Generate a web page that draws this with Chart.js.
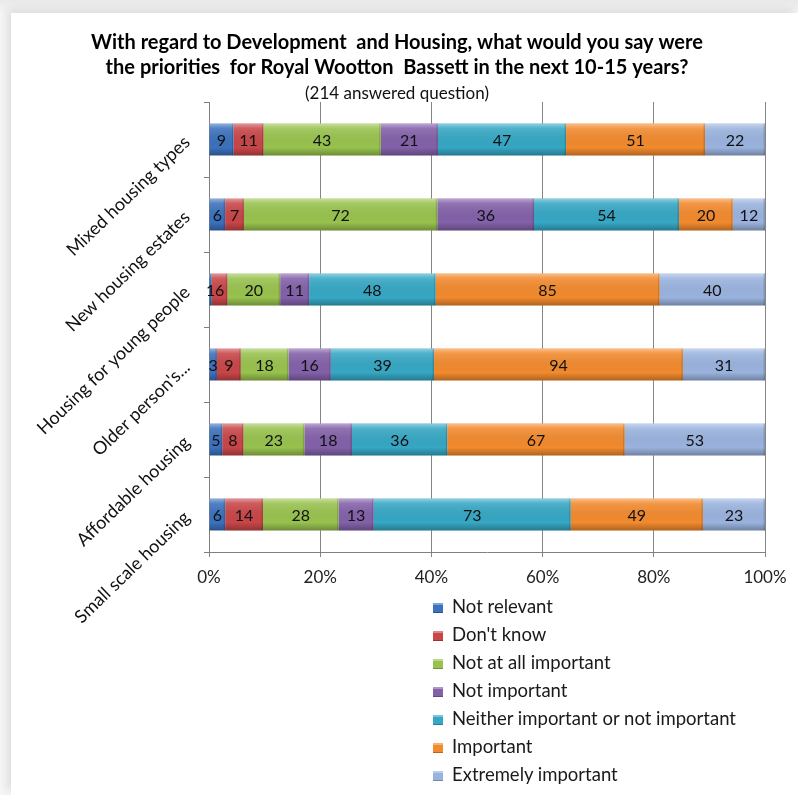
<!DOCTYPE html>
<html>
<head>
<meta charset="utf-8">
<script src="https://cdn.jsdelivr.net/npm/chart.js@4.4.1/dist/chart.umd.min.js"></script>
<style>
  html, body { margin: 0; padding: 0; }
  body { width: 798px; height: 795px; position: relative; overflow: hidden;
         background: linear-gradient(to bottom, #e9e9e9, #f6f6f6 13px, #f6f6f6); font-family: Lato, "Open Sans", sans-serif; }
  #sheet { position: absolute; left: 11px; top: 13px; right: 0; bottom: 0; background: #fff;
           box-shadow: -4px -4px 9px rgba(0,0,0,0.10); }
  #chart { position: absolute; left: 0; top: 0; }
  #legend { position: absolute; left: 433px; top: 592px; margin: 0; padding: 0; list-style: none; }
  #legend li { height: 28px; line-height: 28px; font-size: 18.5px; color: #1a1a1a; white-space: nowrap; }
  #legend span.box { display: inline-block; width: 10px; height: 10px; margin-right: 9px; vertical-align: 0px;
                     box-shadow: inset 0 2px 0 rgba(255,255,255,0.35), inset 0 -1px 0 rgba(0,0,0,0.25); }
</style>
</head>
<body>
<div id="sheet"></div>
<canvas id="chart" width="798" height="795"></canvas>
<ul id="legend"></ul>
<script>
// categories, top to bottom
const categories = ['Mixed housing types', 'New housing estates', 'Housing for young people',
                    "Older person's...", 'Affordable housing', 'Small scale housing'];

// counts per answer (same order as categories)
const notRelevant   = [9, 6, 1, 3, 5, 6];
const dontKnow      = [11, 7, 6, 9, 8, 14];
const notAtAll      = [43, 72, 20, 18, 23, 28];
const notImportant  = [21, 36, 11, 16, 18, 13];
const neither       = [47, 54, 48, 39, 36, 73];
const important     = [51, 20, 85, 94, 67, 49];
const extremely     = [22, 12, 40, 31, 53, 23];

const seriesNames = ['Not relevant', "Don't know", 'Not at all important', 'Not important',
                     'Neither important or not important', 'Important', 'Extremely important'];
const seriesCounts = [notRelevant, dontKnow, notAtAll, notImportant, neither, important, extremely];
const seriesColors = ['#3b71bd', '#c84648', '#98c24e', '#8361a9', '#36a7c4', '#f28a2e', '#9ab3de'];

const xTicks = [0, 20, 40, 60, 80, 100];

// row totals -> 100% stacked
const totals = categories.map((c, i) => seriesCounts.reduce((s, arr) => s + arr[i], 0));

const datasets = seriesNames.map((name, k) => ({
  label: name,
  data: seriesCounts[k].map((v, i) => v / totals[i] * 100),
  counts: seriesCounts[k],
  backgroundColor: seriesColors[k],
  borderWidth: 0,
  barPercentage: 0.425,
  categoryPercentage: 1
}));

// bevel-ish shading + value labels
const barLabels = {
  id: 'barLabels',
  afterDatasetsDraw(chart) {
    const ctx = chart.ctx;
    chart.data.datasets.forEach((ds, k) => {
      const meta = chart.getDatasetMeta(k);
      meta.data.forEach((el) => {
        const l = Math.min(el.x, el.base), r = Math.max(el.x, el.base);
        const t = el.y - el.height / 2, b = el.y + el.height / 2;
        if (r - l < 0.5) return;
        ctx.save();
        const g = ctx.createLinearGradient(0, t, 0, b);
        g.addColorStop(0, 'rgba(255,255,255,0.45)');
        g.addColorStop(0.15, 'rgba(255,255,255,0.12)');
        g.addColorStop(0.75, 'rgba(0,0,0,0)');
        g.addColorStop(1, 'rgba(0,0,0,0.28)');
        ctx.fillStyle = g;
        ctx.fillRect(l, t, r - l, b - t);
        ctx.fillStyle = 'rgba(0,0,0,0.14)';
        ctx.fillRect(r - 1.5, t, 1.5, b - t);
        ctx.restore();
      });
    });
    ctx.save();
    ctx.font = '16px Lato, "Open Sans", sans-serif';
    ctx.fillStyle = '#111';
    ctx.textAlign = 'center';
    ctx.textBaseline = 'middle';
    chart.data.datasets.forEach((ds, k) => {
      const meta = chart.getDatasetMeta(k);
      meta.data.forEach((el, i) => {
        ctx.fillText(String(ds.counts[i]), (el.x + el.base) / 2, el.y + 1);
      });
    });
    ctx.restore();
  }
};

const chart = new Chart(document.getElementById('chart'), {
  type: 'bar',
  data: { labels: categories, datasets },
  plugins: [barLabels],
  options: {
    indexAxis: 'y',
    responsive: false,
    animation: false,
    layout: { padding: { left: 29, right: 33, top: 30, bottom: 203 } },
    plugins: {
      legend: { display: false },
      tooltip: { enabled: false },
      title: {
        display: true,
        text: ['With regard to Development  and Housing, what would you say were',
               'the priorities  for Royal Wootton  Bassett in the next 10-15 years?'],
        color: '#000',
        font: { family: 'Lato, "Open Sans", sans-serif', size: 20, weight: 'bold', lineHeight: 1.25 },
        padding: { top: 0, bottom: 0 }
      },
      subtitle: {
        display: true,
        text: '(214 answered question)',
        color: '#111',
        font: { family: 'Lato, "Open Sans", sans-serif', size: 17, lineHeight: 1.0 },
        padding: { top: 5, bottom: 0 }
      }
    },
    scales: {
      x: {
        stacked: true,
        min: 0, max: 100,
        afterBuildTicks: (s) => { s.ticks = xTicks.map(v => ({ value: v })); },
        afterFit: (s) => { s.height = 40; },
        ticks: {
          callback: (v) => v + '%',
          color: '#222',
          padding: 10,
          font: { family: 'Lato, "Open Sans", sans-serif', size: 17 }
        },
        grid: { color: '#858585', lineWidth: 1, tickLength: 5, tickColor: '#858585' },
        border: { color: '#808080' }
      },
      y: {
        stacked: true,
        afterFit: (s) => { s.width = 180; },
        ticks: {
          minRotation: 44, maxRotation: 44,
          color: '#111',
          padding: 17,
          font: { family: 'Lato, "Open Sans", sans-serif', size: 18 }
        },
        grid: { display: true, drawOnChartArea: false, tickLength: 5, color: '#808080' },
        border: { color: '#808080' }
      }
    }
  }
});

// legend list built from the chart's datasets
const legendEl = document.getElementById('legend');
chart.data.datasets.forEach((ds) => {
  const li = document.createElement('li');
  const box = document.createElement('span');
  box.className = 'box';
  box.style.background = ds.backgroundColor;
  li.appendChild(box);
  li.appendChild(document.createTextNode(ds.label));
  legendEl.appendChild(li);
});
</script>
</body>
</html>
